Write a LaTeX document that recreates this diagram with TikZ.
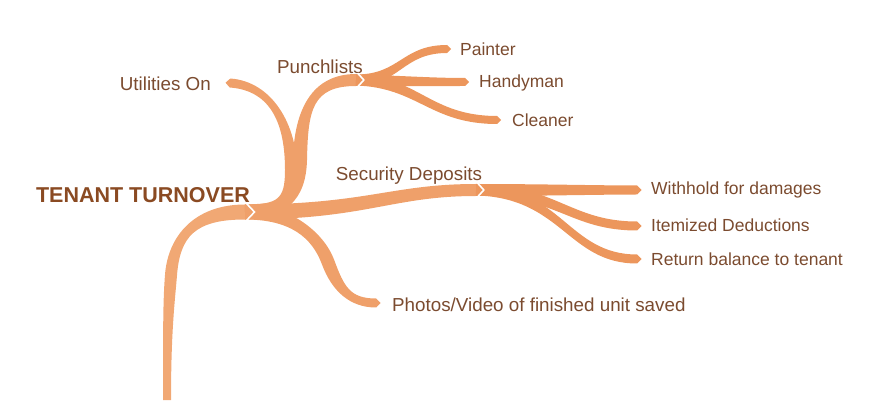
\documentclass[tikz,border=0pt]{standalone}
\usepackage{fontspec}
\setmainfont{Liberation Sans}
\usepackage{xcolor}
\usetikzlibrary{calc}

\definecolor{limb}{HTML}{EFA06A}
\definecolor{trunkc}{HTML}{F1A874}
\definecolor{twigc}{HTML}{EC965C}
\definecolor{ink}{HTML}{7B4B2F}
\definecolor{titleink}{HTML}{8A4A22}

% tapered branch: start, control 1, control 2, end, half width at start, half width at end, colour
\newcommand{\drawbranch}[7]{%
    \coordinate (la) at ($(#1)!#5!90:(#2)$);
    \coordinate (lb) at ($(#1)!#5!-90:(#2)$);
    \coordinate (ra) at ($(#4)!#6!-90:(#3)$);
    \coordinate (rb) at ($(#4)!#6!90:(#3)$);
    \coordinate (tp) at ($(#4)!-#6!(#3)$);
    \fill[#7] (la) .. controls ($(#2)+(la)-(#1)$) and ($(#3)+(ra)-(#4)$) .. (ra) -- (tp) -- (rb)
        .. controls ($(#3)+(rb)-(#4)$) and ($(#2)+(lb)-(#1)$) .. (lb) -- cycle;}

\begin{document}
\begin{tikzpicture}[x=1pt,y=-1pt,
    notch/.style={draw=white,line width=1.6pt,line join=miter},
    lbl/.style={text=ink,inner sep=0pt,font=\fontsize{17.5}{20}\selectfont},
    biglbl/.style={lbl,font=\fontsize{18.8}{22}\selectfont}]
    \useasboundingbox (0,0) rectangle (877,419);

    % junction points and branch ends
    \coordinate (bot) at (167,400);
    \coordinate (tm) at (171,275);
    \coordinate (hub) at (245,212);
    \coordinate (um) at (291,170);
    \coordinate (pm) at (300,160);
    \coordinate (phm) at (328,262);
    \coordinate (pj) at (356,80);
    \coordinate (sj) at (476,190);
    \coordinate (utip) at (230,83);
    \coordinate (phtip) at (376,303);
    \coordinate (ptip) at (447,49);
    \coordinate (htip) at (465,82);
    \coordinate (ctip) at (497,120);
    \coordinate (wtip) at (637,190);
    \coordinate (itip) at (637,226);
    \coordinate (rtip) at (637,259);

    % labels
    \node[inner sep=0pt,text=titleink,font=\fontsize{21.5}{25}\selectfont\bfseries] (root) at (143,195) {TENANT TURNOVER};
    \node[biglbl,anchor=east] (util) at (211,84) {Utilities On};
    \node[biglbl] (punch) at (320,67) {Punchlists};
    \node[lbl,anchor=west] (paint) at (460,49) {Painter};
    \node[lbl,anchor=west] (handy) at (479,83) {Handyman};
    \node[lbl,anchor=west] (clean) at (512,120) {Cleaner};
    \node[biglbl] (secdep) at (409,176) {Security Deposits};
    \node[lbl,anchor=west] (withhold) at (651,190) {Withhold for damages};
    \node[lbl,anchor=west] (itemized) at (651,225) {Itemized Deductions};
    \node[lbl,anchor=west] (ret) at (651,259) {Return balance to tenant};
    \node[biglbl,anchor=west] (photos) at (392,305) {Photos/Video of finished unit saved};

    % trunk
    \drawbranch{bot}{167,330}{169,300}{tm}{4pt}{6pt}{trunkc}
    \drawbranch{tm}{174,236}{195,212}{hub}{6pt}{7.5pt}{trunkc}

    % main branches
    \drawbranch{hub}{278,211}{291,200}{um}{7pt}{6pt}{limb}
    \drawbranch{um}{291,125}{272,86}{utip}{6pt}{4.5pt}{limb}
    \drawbranch{hub}{285,211}{299,200}{pm}{7.5pt}{7pt}{limb}
    \drawbranch{pm}{301,110}{312,80}{pj}{7pt}{6pt}{limb}
    \drawbranch{hub}{366,212}{392,190}{sj}{7.5pt}{6pt}{limb}
    \drawbranch{hub}{290,212}{318,235}{phm}{7.5pt}{6.5pt}{limb}
    \drawbranch{phm}{338,289}{350,303}{phtip}{6.5pt}{4.5pt}{limb}

    % punchlist twigs
    \drawbranch{pj}{400,80}{402,49}{ptip}{5.5pt}{4pt}{twigc}
    \drawbranch{pj}{400,81}{430,82}{htip}{5.5pt}{4pt}{twigc}
    \drawbranch{pj}{418,82}{430,120}{ctip}{5.5pt}{4pt}{twigc}

    % security deposit twigs
    \drawbranch{sj}{540,190}{600,190}{wtip}{6pt}{4.5pt}{twigc}
    \drawbranch{sj}{556,190}{570,226}{itip}{5.5pt}{4.5pt}{twigc}
    \drawbranch{sj}{562,192}{568,259}{rtip}{5.5pt}{4.5pt}{twigc}

    % notches at the joints
    \draw[notch] ($(hub)+(1.5,-8.5)$) -- ($(hub)+(9.5,0)$) -- ($(hub)+(1.5,8.5)$);
    \draw[notch] ($(pj)+(1.5,-7)$) -- ($(pj)+(7.8,0)$) -- ($(pj)+(1.5,7)$);
    \draw[notch] ($(sj)+(1.5,-7)$) -- ($(sj)+(7.8,0)$) -- ($(sj)+(1.5,7)$);
\end{tikzpicture}
\end{document}
